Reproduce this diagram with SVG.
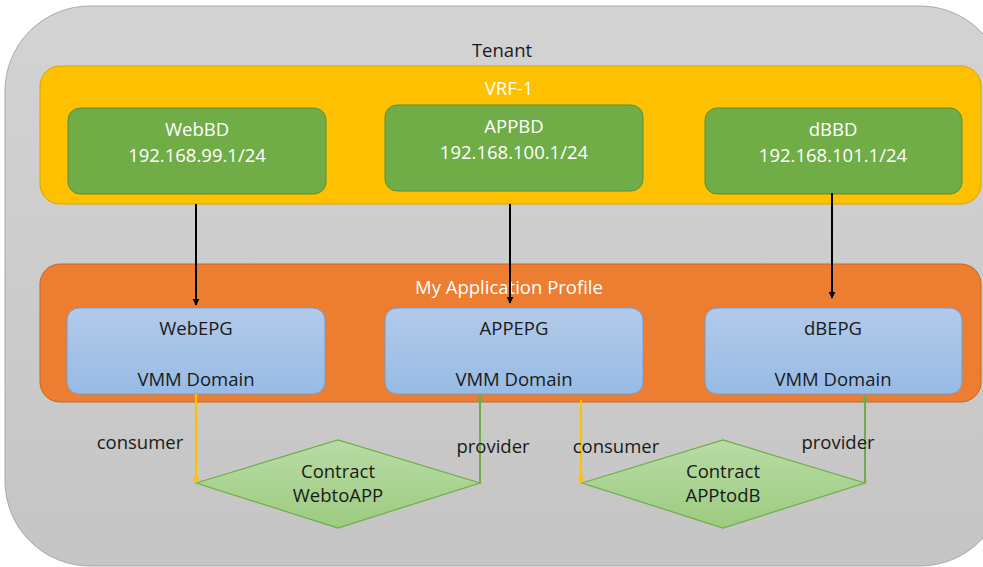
<svg xmlns="http://www.w3.org/2000/svg" width="983" height="567" viewBox="0 0 983 567">
<defs>
<linearGradient id="gTen" x1="0" y1="0" x2="0" y2="1"><stop offset="0" stop-color="#d3d3d3"/><stop offset="1" stop-color="#c5c5c5"/></linearGradient>
<linearGradient id="gEpg" x1="0" y1="0" x2="0" y2="1"><stop offset="0" stop-color="#b3caea"/><stop offset="1" stop-color="#97bbe4"/></linearGradient>
<linearGradient id="gCon" x1="0" y1="0" x2="0" y2="1"><stop offset="0" stop-color="#b9dca6"/><stop offset="1" stop-color="#9ccb80"/></linearGradient>
<marker id="aBlk" viewBox="0 0 10 10" refX="9" refY="5" markerWidth="7" markerHeight="7" orient="auto" markerUnits="userSpaceOnUse"><path d="M0,0 L10,5 L0,10 z" fill="#000"/></marker>
<marker id="aYel" viewBox="0 0 10 10" refX="9" refY="5" markerWidth="7" markerHeight="7" orient="auto" markerUnits="userSpaceOnUse"><path d="M0,0 L10,5 L0,10 z" fill="#ffc000"/></marker>
<marker id="aGrn" viewBox="0 0 10 10" refX="9" refY="5" markerWidth="7" markerHeight="7" orient="auto" markerUnits="userSpaceOnUse"><path d="M0,0 L10,5 L0,10 z" fill="#70ad47"/></marker>
</defs>
<style>
text{font-family:"Open Sans","Liberation Sans",sans-serif;font-size:18.5px;text-anchor:middle;dominant-baseline:middle}
.dk{fill:#1a1a1a}
.wh{fill:#ffffff}
.bd{fill:#70ad47;stroke:#5b8f3a;stroke-width:1}
.epg{fill:url(#gEpg);stroke:#6f9fd6;stroke-width:1}
.con{fill:url(#gCon);stroke:#70ad47;stroke-width:1.2}
</style>
<rect width="983" height="567" fill="#ffffff"/>
<g id="tenant">
<rect x="5" y="6" width="1000" height="560" rx="85" ry="85" fill="url(#gTen)" stroke="#a8a8a8" stroke-width="1"/>
<text x="502" y="52" class="dk">Tenant</text>
</g>
<g id="vrf">
<rect x="40" y="66" width="941" height="138" rx="20" ry="20" fill="#ffc000" stroke="#d9a400" stroke-width="1"/>
<text x="509" y="90" class="wh">VRF-1</text>
</g>
<g id="webbd">
<rect x="68" y="108" width="258" height="86" rx="12" class="bd"/>
<text x="197" y="131" class="wh">WebBD</text>
<text x="197" y="157" class="wh">192.168.99.1/24</text>
</g>
<g id="appbd">
<rect x="385" y="105" width="258" height="86" rx="12" class="bd"/>
<text x="514" y="128" class="wh">APPBD</text>
<text x="514" y="154" class="wh">192.168.100.1/24</text>
</g>
<g id="dbbd">
<rect x="705" y="108" width="257" height="86" rx="12" class="bd"/>
<text x="833" y="131" class="wh">dBBD</text>
<text x="833" y="157" class="wh">192.168.101.1/24</text>
</g>
<g id="ap">
<rect x="40" y="264" width="941" height="138" rx="20" ry="20" fill="#ed7d31" stroke="#c8651f" stroke-width="1"/>
<text x="509" y="289" class="wh">My Application Profile</text>
</g>
<g id="webepg">
<rect x="67" y="308" width="258" height="86" rx="12" class="epg"/>
<text x="196" y="330" class="dk">WebEPG</text>
<text x="196" y="381" class="dk">VMM Domain</text>
</g>
<g id="appepg">
<rect x="385" y="308" width="258" height="86" rx="12" class="epg"/>
<text x="514" y="330" class="dk">APPEPG</text>
<text x="514" y="381" class="dk">VMM Domain</text>
</g>
<g id="dbepg">
<rect x="705" y="308" width="257" height="86" rx="12" class="epg"/>
<text x="833" y="330" class="dk">dBEPG</text>
<text x="833" y="381" class="dk">VMM Domain</text>
</g>
<g id="webtoapp">
<polygon points="196,483 338,440 480,483 338,528" class="con"/>
<text x="338" y="473" class="dk">Contract</text>
<text x="338" y="497" class="dk">WebtoAPP</text>
</g>
<g id="apptodb">
<polygon points="582,483 723,440 865,483 723,528" class="con"/>
<text x="723" y="473" class="dk">Contract</text>
<text x="723" y="497" class="dk">APPtodB</text>
</g>
<g id="connectors" fill="none">
<line x1="196" y1="204" x2="196" y2="305" stroke="#000" stroke-width="2" marker-end="url(#aBlk)"/>
<line x1="510" y1="204" x2="510" y2="303" stroke="#000" stroke-width="2" marker-end="url(#aBlk)"/>
<line x1="832" y1="193" x2="832" y2="298" stroke="#000" stroke-width="2" marker-end="url(#aBlk)"/>
<line x1="196" y1="394" x2="196" y2="483" stroke="#ffc000" stroke-width="2.2" marker-end="url(#aYel)"/>
<line x1="480" y1="483" x2="480" y2="395" stroke="#70ad47" stroke-width="2" marker-end="url(#aGrn)"/>
<line x1="581" y1="400" x2="581" y2="483" stroke="#ffc000" stroke-width="2.2" marker-end="url(#aYel)"/>
<line x1="865" y1="483" x2="865" y2="395" stroke="#70ad47" stroke-width="2" marker-end="url(#aGrn)"/>
<text x="140" y="444" class="dk" stroke="none">consumer</text>
<text x="493" y="448" class="dk" stroke="none">provider</text>
<text x="616" y="448" class="dk" stroke="none">consumer</text>
<text x="838" y="444" class="dk" stroke="none">provider</text>
</g>
</svg>
